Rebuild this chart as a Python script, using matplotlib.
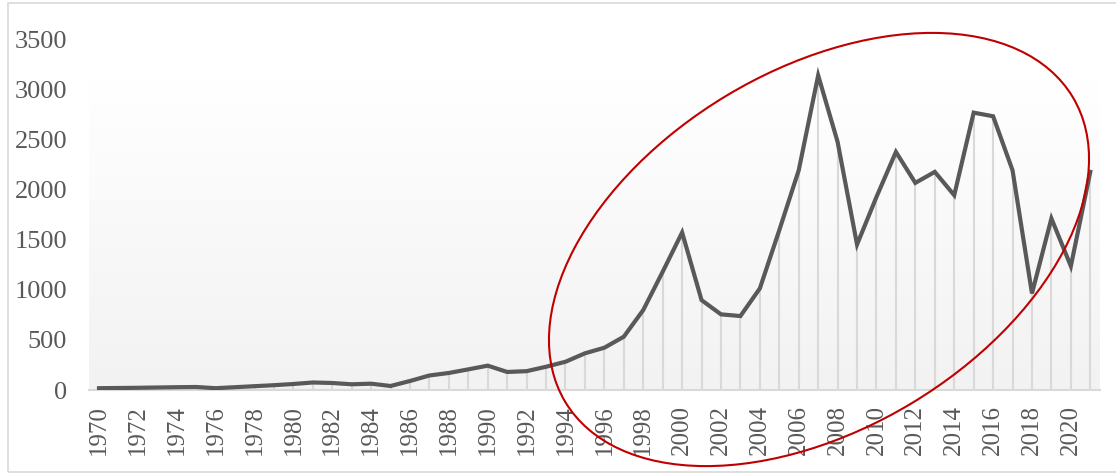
import numpy as np
import matplotlib
matplotlib.use("Agg")
import matplotlib.pyplot as plt
from matplotlib.patches import Ellipse, Rectangle
from matplotlib.colors import LinearSegmentedColormap

years = list(range(1970, 2022))
values = [18, 20, 22, 25, 28, 30, 18, 28, 38, 48,
          60, 75, 70, 57, 63, 40, 90, 145, 170, 206,
          243, 180, 188, 232, 282, 366, 422, 532, 798, 1180,
          1572, 897, 755, 738, 1014, 1595, 2193, 3140, 2476, 1452,
          1927, 2376, 2067, 2177, 1944, 2768, 2732, 2193, 964, 1712,
          1236, 2177]
tick_labels = [str(y) if (y - 1970) % 2 == 0 else "" for y in years]
yticks = [0, 500, 1000, 1500, 2000, 2500, 3000, 3500]

W, H = 1116, 473
fig = plt.figure(figsize=(W / 100, H / 100), dpi=100)
fig.patch.set_facecolor("white")
ax = fig.add_axes([89.3 / W, (H - 390) / H, (1100 - 89.3) / W, (390 - 39.3) / H])

x = np.arange(len(years))
ax.set_xlim(-0.5, len(years) - 0.5)
ax.set_ylim(0, 3500)

# gradient background
cmap = LinearSegmentedColormap.from_list("g", ["#F2F2F2", "#FFFFFF"])
grad = np.linspace(0, 1, 256).reshape(-1, 1)
ax.imshow(grad, cmap=cmap, aspect="auto", extent=[0, 1, 0, 0.88],
          origin="lower", transform=ax.transAxes, zorder=0)
ax.set_facecolor("white")

# drop lines
ax.vlines(x, 0, values, colors="#D9D9D9", linewidth=1.5, zorder=1)
ax.plot(x, values, color="#595959", linewidth=3.0, zorder=3,
        solid_joinstyle="miter")

for s in ["top", "right", "left"]:
    ax.spines[s].set_visible(False)
ax.spines["bottom"].set_color("#D9D9D9")
ax.spines["bottom"].set_linewidth(1.5)
ax.spines["bottom"].set_zorder(2)

ax.set_xticks(x)
ax.set_xticklabels(tick_labels, rotation=90, fontfamily="Liberation Serif",
                   fontsize=18, color="#595959")
ax.set_yticks(yticks)
ax.set_yticklabels([str(v) for v in yticks], fontfamily="Liberation Serif",
                   fontsize=19, color="#595959")
ax.tick_params(axis="x", length=0, pad=11)
ax.tick_params(axis="y", length=0, pad=16)

# red ellipse annotation (in inches)
ell = Ellipse((819 / 100, (H - 249.5) / 100), 592 / 100, 359 / 100, angle=31,
              transform=fig.dpi_scale_trans, fill=False, edgecolor="#C00000",
              linewidth=1.5, zorder=10, clip_on=False)
fig.add_artist(ell)

# chart border
border = Rectangle((8 / W, 1.5 / H), (W + 10) / W, (H - 4.5) / H,
                   transform=fig.transFigure, fill=False,
                   edgecolor="#D9D9D9", linewidth=1.2, clip_on=False)
fig.add_artist(border)

fig.savefig("out.png", dpi=100, facecolor="white")
